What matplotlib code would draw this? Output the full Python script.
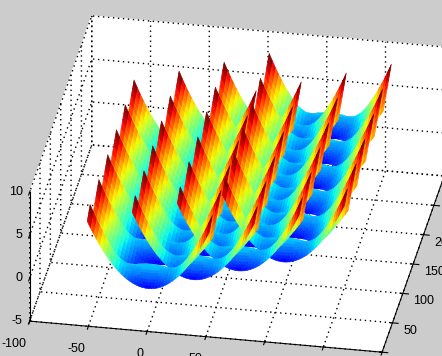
import matplotlib
matplotlib.use("Agg")
import numpy as np
import matplotlib.pyplot as plt
from mpl_toolkits.mplot3d.art3d import Poly3DCollection

plt.rcParams['font.family'] = ['Liberation Sans', 'DejaVu Sans']
plt.rcParams['axes.unicode_minus'] = False

# one trough, read along x
arc_x = [0, 2.6, 5.2, 7.8, 10.4, 13, 15.6, 18.2, 20.8, 23.4, 26, 28.6, 31.2, 33.8, 36.4, 39, 41.6, 44.2, 46.8, 49.4,
         52, 54.6, 57.2, 59.8, 62.4, 65, 67.6, 70.2, 72.8, 75.4, 78, 80.6, 83.2, 85.8, 88.4, 91, 93.6, 96.2, 98.8, 101.4, 104]
arc_z = [7.2, 6.5, 5.83, 5.2, 4.61, 4.05, 3.53, 3.04, 2.59, 2.18, 1.8, 1.46, 1.15, 0.88, 0.65, 0.45, 0.29, 0.16, 0.07, 0.02,
         0, 0.02, 0.07, 0.16, 0.29, 0.45, 0.65, 0.88, 1.15, 1.46, 1.8, 2.18, 2.59, 3.04, 3.53, 4.05, 4.61, 5.2, 5.83, 6.5, 7.2]
# climb towards the back edge, which lies back_y behind the trough line
lift_z = [1.0, 0.9, 0.8, 0.72, 0.65, 0.57, 0.5, 0.45, 0.4, 0.4, 0.4, 0.5, 0.6, 0.8, 1.0, 1.25, 1.5, 1.65, 1.8, 1.87,
          1.9, 1.87, 1.8, 1.65, 1.5, 1.25, 1.0, 0.8, 0.6, 0.5, 0.4, 0.4, 0.4, 0.45, 0.5, 0.57, 0.65, 0.72, 0.8, 0.9, 1.0]
# hidden part in front of the trough line, only for the rows behind the first
ext_y = [25, 25, 25, 25, 25, 25, 25, 25, 25, 23, 20, 17, 14, 12, 10, 7, 5, 3, 2, 1,
         1, 1, 2, 3, 5, 7, 10, 12, 14, 17, 20, 23, 25, 25, 25, 25, 25, 25, 25, 25, 25]
drop_z = [1.8, 1.6, 1.4, 1.25, 1.1, 1.0, 0.9, 0.8, 0.7, 0.65, 0.6, 0.5, 0.4, 0.3, 0.2, 0.1, 0.05, 0, 0, 0,
          0, 0, 0, 0, 0.05, 0.1, 0.2, 0.3, 0.4, 0.5, 0.6, 0.65, 0.7, 0.8, 0.9, 1.0, 1.1, 1.25, 1.4, 1.6, 1.8]
back_y = 14
front_frac = [-1, -0.75, -0.5, -0.25]
back_frac = [0, 0.125, 0.25, 0.375, 0.5, 0.625, 0.75, 0.875, 1]

col_x = [-51, -16.4, 18.2, 52.8]
col_y = [0, 21.2, 42.4, 63.6]
row_y = [0, 42.4, 84.8, 127.2, 169.6, 212]

x_ticks = [-100, -50, 0, 50, 100, 150, 200]
x_labels = ['-100', '-50', '0', '50', '', '', '']
y_ticks = [0, 50, 100, 150, 200, 250, 300]
y_labeled = [50, 100, 150, 200]
z_ticks = [-5, 0, 5, 10]

fig = plt.figure(figsize=(4.42, 3.56), dpi=100, facecolor='#cccccc')
ax = fig.add_axes([11 / 442, -54 / 356, 440 / 442, 440 / 356], projection='3d', proj_type='ortho')
ax.view_init(elev=30, azim=-80)
ax.set_box_aspect((358, 358, 149), zoom=1.164)
ax.patch.set_alpha(0)

ax.set_xlim(-100, 200, view_margin=0)
ax.set_ylim(0, 300, view_margin=0)
ax.set_zlim(-5, 10, view_margin=0)
ax.set_xticks(x_ticks)
ax.set_xticklabels(x_labels)
ax.set_yticks(y_ticks)
ax.set_zticks(z_ticks)
ax.tick_params(labelsize=9, pad=1)
ax.zaxis.set_ticks_position('lower')
plt.setp(ax.get_xticklabels(), ha='right')

for axis in (ax.xaxis, ax.yaxis, ax.zaxis):
    axis.set_pane_color('white')
    axis.pane.set_edgecolor('white')
    axis._axinfo['grid'].update(color='k', linestyle=(0, (1, 2.6)), linewidth=1.0)
    axis.line.set_color('k')
    axis.label.set_visible(False)
    axis.offsetText.set_visible(False)
    for lab in axis.get_ticklabels():
        if axis is not ax.xaxis or lab.get_text() == '':
            lab.set_visible(False)

for z in z_ticks:
    ax.text(-106, 0, z, str(z), ha='right', va='center', fontsize=9, clip_on=False)
for y in y_labeled:
    ax.text(209, y, -5.8, str(y), ha='left', va='center', fontsize=9, clip_on=False)

cmap = matplotlib.colormaps['jet'].resampled(64)
xs = np.array(arc_x)
zs = np.array(arc_z)
lift = np.array(lift_z)
drop = np.array(drop_z)
ext = np.array(ext_y)

verts = []
vals = []
for cx, cy in zip(col_x, col_y):
    for n, ry in enumerate(row_y):
        fracs = back_frac if n == 0 else front_frac + back_frac
        Ys = []
        Zs = []
        for f in fracs:
            if f < 0:
                Ys.append(cy + ry + f * ext)
                Zs.append(zs + f * drop)
            else:
                Ys.append(cy + ry + f * back_y + 0 * ext)
                Zs.append(zs + f * lift)
        Y = np.array(Ys)
        Z = np.array(Zs)
        X = xs + cx
        for i in range(len(fracs) - 1):
            for j in range(len(xs) - 1):
                verts.append([(X[j], Y[i, j], Z[i, j]), (X[j + 1], Y[i, j + 1], Z[i, j + 1]),
                              (X[j + 1], Y[i + 1, j + 1], Z[i + 1, j + 1]), (X[j], Y[i + 1, j], Z[i + 1, j])])
                vals.append((Z[i, j] + Z[i, j + 1] + Z[i + 1, j] + Z[i + 1, j + 1]) / 4)

colors = cmap((np.array(vals) + 1.1) / 8.8)
surf = Poly3DCollection(verts, facecolors=colors, edgecolors=colors, linewidths=0.4)
ax.add_collection3d(surf)

fig.savefig('out.png', dpi=100, facecolor=fig.get_facecolor())
